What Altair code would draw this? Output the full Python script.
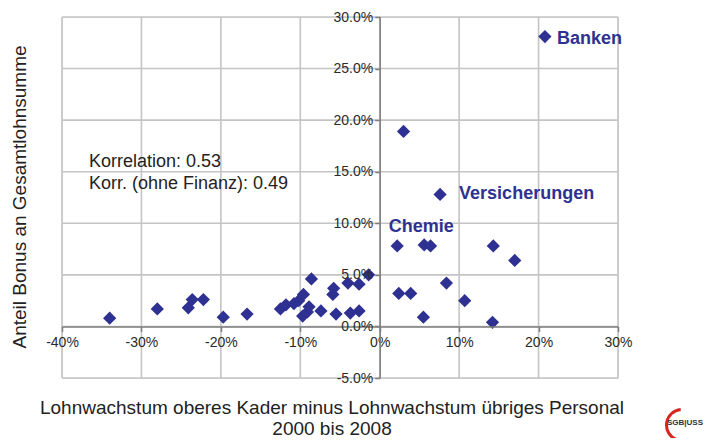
import altair as alt
import pandas as pd

# Data (percent values)
x_vals = [20.8, 3.0, 7.6, 2.2, 5.6, 6.4, 14.3, 17.0, -1.4, 8.4, 2.4, 3.9, 10.7, 5.5, 14.2,
          -34.0, -28.0, -24.1, -23.6, -22.2, -19.7, -16.7, -12.5, -11.8, -10.8, -10.2,
          -9.6, -8.6, -9.7, -9.1, -8.9, -7.4, -5.8, -5.9, -5.5, -4.0, -2.6, -3.7, -2.6]
y_vals = [28.1, 18.9, 12.8, 7.8, 7.9, 7.8, 7.8, 6.4, 5.0, 4.2, 3.2, 3.2, 2.5, 0.9, 0.4,
          0.8, 1.7, 1.8, 2.6, 2.6, 0.9, 1.2, 1.7, 2.1, 2.2, 2.5,
          3.1, 4.6, 1.0, 1.4, 1.9, 1.5, 3.7, 3.1, 1.2, 4.2, 4.1, 1.3, 1.5]

x_ticks = [-0.4, -0.3, -0.2, -0.1, 0.0, 0.1, 0.2, 0.3]
y_ticks = [-0.05, 0.0, 0.05, 0.10, 0.15, 0.20, 0.25, 0.30]

label_names = ["Banken", "Versicherungen", "Chemie"]
label_x = [20.8, 7.6, 2.2]
label_y = [28.1, 12.8, 7.8]

notes = ["Korrelation: 0.53", "Korr. (ohne Finanz):  0.49"]
x_title = ["Lohnwachstum oberes Kader minus Lohnwachstum übriges Personal", "2000 bis 2008"]
y_title = "Anteil Bonus an Gesamtlohnsumme"

W, H = 556, 361
XMIN, XMAX = -0.4, 0.3
YMIN, YMAX = -0.05, 0.30
x0_px = W * (0 - XMIN) / (XMAX - XMIN)
y0_from_bottom = H * (0 - YMIN) / (YMAX - YMIN)

BLUE = "#2E3192"
FONT = "Liberation Sans"
MINUS_FIX = "replace(datum.label, '\u2212', '-')"

pts = pd.DataFrame({"x": [v / 100 for v in x_vals], "y": [v / 100 for v in y_vals]})
labs = pd.DataFrame({"name": label_names,
                     "x": [v / 100 for v in label_x],
                     "y": [v / 100 for v in label_y]})

xs = alt.Scale(domain=[XMIN, XMAX], nice=False, zero=False)
ys = alt.Scale(domain=[YMIN, YMAX], nice=False, zero=False)

x_axis = alt.Axis(values=x_ticks, format=".0%", labelExpr=MINUS_FIX, title=None, grid=False,
                  offset=-y0_from_bottom, domainColor="#7f7f7f", domainWidth=1.5,
                  tickColor="#7f7f7f", tickSize=5, tickWidth=1.5, labelPadding=4,
                  labelFont=FONT, labelFontSize=14, labelColor="#2a2a2a",
                  labelFlush=False, labelOverlap=False, zindex=1)
y_axis = alt.Axis(values=y_ticks, format=".1%", labelExpr=MINUS_FIX, title=None, grid=False,
                  offset=-x0_px, domainColor="#7f7f7f", domainWidth=1.5,
                  tickColor="#7f7f7f", tickSize=5, tickWidth=1.5, labelPadding=2,
                  labelFont=FONT, labelFontSize=14, labelColor="#2a2a2a",
                  labelFlush=False, labelOverlap=False, zindex=1)


def X(field):
    return alt.X(field, scale=xs, axis=x_axis)


def Y(field):
    return alt.Y(field, scale=ys, axis=y_axis)


xgrid = alt.Chart(pd.DataFrame({"t": x_ticks})).mark_rule(color="#c4c4c4", strokeWidth=1.6).encode(
    x=X("t:Q"))
ygrid = alt.Chart(pd.DataFrame({"t": y_ticks})).mark_rule(color="#c4c4c4", strokeWidth=1.6).encode(
    y=Y("t:Q"))

points = alt.Chart(pts).mark_point(shape="diamond", filled=True, size=175, color=BLUE, opacity=1).encode(
    x=X("x:Q"), y=Y("y:Q"))


def label(name, align, dx, dy):
    return alt.Chart(labs).transform_filter(alt.datum.name == name).mark_text(
        align=align, baseline="middle", dx=dx, dy=dy, font=FONT, fontSize=18,
        fontWeight="bold", color=BLUE
    ).encode(x=X("x:Q"), y=Y("y:Q"), text="name:N")


lab_b = label("Banken", "left", 12, 2)
lab_v = label("Versicherungen", "left", 19, 0)
lab_c = label("Chemie", "center", 24, -19)


def free_text(t, x, y, size, angle=0, weight="normal", color="#222222", align="left"):
    m = alt.Chart(pd.DataFrame({"t": [t]})).mark_text(
        align=align, baseline="middle", font=FONT, fontSize=size, color=color,
        fontWeight=weight, angle=angle)
    return m.encode(x=alt.value(x), y=alt.value(y), text="t:N")


note1 = free_text(notes[0], 27, 145, 18)
note2 = free_text(notes[1], 27, 167, 18)
xt1 = free_text(x_title[0], 270, 391, 19, align="center")
xt2 = free_text(x_title[1], 270, 412, 19, align="center")
yt = free_text(y_title, -42, 180, 19, angle=270, align="center")

logo_arc = alt.Chart(pd.DataFrame({"a": [1]})).mark_arc(
    color="#d7261e", radius=17, radius2=14, theta=3.5, theta2=6.2
).encode(x=alt.value(620), y=alt.value(408))
logo_txt = free_text("SGB|USS", 605, 406, 8, weight="bold", color="#333333")

chart = alt.layer(xgrid, ygrid, points, lab_b, lab_v, lab_c, note1, note2, xt1, xt2, yt,
                  logo_arc, logo_txt).properties(
    width=W, height=H,
    autosize=alt.AutoSizeParams(type="none"),
    padding={"left": 54, "top": 9, "right": 86, "bottom": 60},
).configure_view(stroke=None).configure(background="white")

chart.save("out.html", embed_options={"renderer": "svg", "actions": False})
